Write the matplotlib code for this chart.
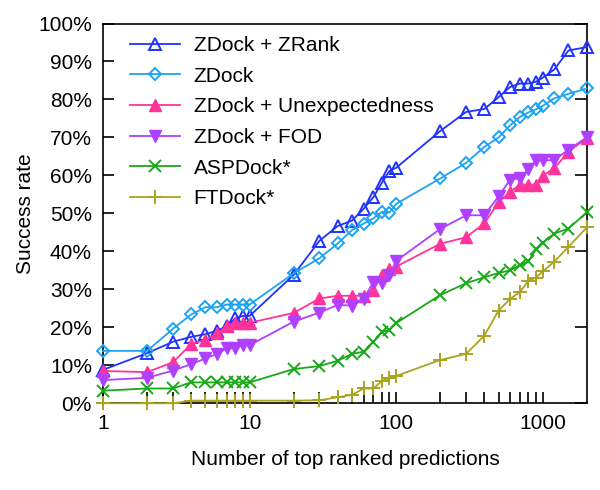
import numpy as np
import matplotlib
matplotlib.use('Agg')
import matplotlib.pyplot as plt
from matplotlib.ticker import FixedLocator, NullFormatter, FuncFormatter

plt.rcParams['font.family'] = ['Liberation Sans', 'DejaVu Sans']

# number of top ranked predictions
n_top = [1, 2, 3, 4, 5, 6, 7, 8, 9, 10,
         20, 30, 40, 50, 60, 70, 80, 90, 100,
         200, 300, 400, 500, 600, 700, 800, 900, 1000, 1200, 1500, 2000]

# success rates in %
zrank = [8.8, 13.2, 16.2, 17.5, 18.2, 19.1, 20.3, 22.4, 23.0, 23.0,
         33.8, 42.8, 46.7, 48.1, 51.2, 54.3, 58.1, 61.2, 62.0,
         71.7, 76.7, 77.5, 80.6, 83.3, 84.2, 84.2, 84.7, 85.7, 87.9, 92.9, 93.8]
zdock = [13.8, 13.8, 19.6, 23.4, 25.3, 25.3, 26.0, 26.0, 26.0, 26.0,
         34.2, 38.2, 42.1, 45.6, 47.3, 48.7, 50.4, 50.2, 52.5,
         59.2, 63.3, 67.5, 70.0, 73.2, 75.4, 76.6, 77.4, 78.3, 80.3, 81.5, 82.9]
unexp = [8.5, 8.2, 10.8, 15.6, 16.7, 18.4, 20.3, 21.2, 21.2, 21.2,
         23.8, 27.6, 28.3, 28.3, 28.3, 29.8, 33.8, 35.3, 36.0,
         42.0, 43.7, 47.4, 52.9, 55.7, 57.6, 57.6, 57.6, 59.9, 61.9, 66.2, 69.9]
fod = [6.1, 6.7, 8.6, 10.3, 11.8, 13.0, 14.5, 14.5, 15.3, 15.3,
       21.5, 23.9, 25.9, 25.7, 27.4, 32.0, 31.8, 33.8, 37.5,
       45.9, 49.5, 49.5, 54.5, 58.9, 59.2, 61.6, 64.0, 64.0, 64.0, 66.8, 70.0]
aspdock = [3.3, 3.9, 3.9, 5.5, 5.5, 5.5, 5.5, 5.5, 5.5, 5.5,
           9.0, 9.8, 11.2, 13.0, 13.6, 16.2, 18.8, 19.3, 21.1,
           28.5, 31.6, 33.2, 34.3, 35.0, 36.4, 37.4, 40.5, 42.3, 44.7, 46.0, 50.3]
ftdock = [0.0, 0.0, 0.0, 0.7, 0.7, 0.7, 0.7, 0.7, 0.7, 0.7,
          0.7, 0.8, 1.6, 2.2, 3.9, 3.9, 5.9, 6.6, 7.2,
          11.4, 13.0, 17.8, 24.4, 27.5, 29.3, 32.3, 33.1, 34.7, 37.3, 41.2, 46.3]

labels = ['ZDock + ZRank', 'ZDock', 'ZDock + Unexpectedness', 'ZDock + FOD',
          'ASPDock*', 'FTDock*']
colors = ['#1f33ff', '#1ea3f2', '#ff3399', '#b040ff', '#18a818', '#aaa420']

fig = plt.figure(figsize=(6, 4.9), dpi=100)
ax = fig.add_axes([0.1717, 0.177, 0.8063, 0.775])

series = [zrank, zdock, unexp, fod, aspdock, ftdock]
styles = [dict(marker='^', ms=8, mfc='none', mew=1.4),
          dict(marker='D', ms=6.5, mfc='none', mew=1.4),
          dict(marker='^', ms=8, mew=1.0),
          dict(marker='v', ms=8, mew=1.0),
          dict(marker='x', ms=8, mew=1.4),
          dict(marker='+', ms=10, mew=1.4)]

for vals, lab, col, st in zip(series, labels, colors, styles):
    ax.plot(n_top, np.array(vals) / 100.0, color=col, lw=1.3, label=lab,
            clip_on=False, zorder=3, **st)

ax.set_xscale('log')
ax.set_xlim(1, 2000)
ax.set_ylim(0, 1.0)

ax.xaxis.set_major_locator(FixedLocator([1, 10, 100, 1000]))
ax.xaxis.set_major_formatter(FuncFormatter(lambda v, p: '%d' % v))
minors = [m * 10 ** e for e in range(0, 4) for m in range(2, 10) if m * 10 ** e < 2000]
ax.xaxis.set_minor_locator(FixedLocator(minors))
ax.xaxis.set_minor_formatter(NullFormatter())
ax.yaxis.set_major_locator(FixedLocator(np.arange(0, 1.01, 0.1)))
ax.yaxis.set_major_formatter(FuncFormatter(lambda v, p: '%d%%' % round(v * 100)))

ax.tick_params(axis='both', which='both', direction='in', labelsize=15,
               width=1.2, color='black')
ax.tick_params(axis='x', which='major', length=8, pad=8)
ax.tick_params(axis='x', which='minor', length=8)
ax.tick_params(axis='y', which='major', length=8, pad=8)
for s in ax.spines.values():
    s.set_linewidth(1.2)

# right side ticks every 20%
ax2 = ax.twinx()
ax2.set_ylim(0, 1.0)
ax2.yaxis.set_major_locator(FixedLocator(np.arange(0, 1.01, 0.2)))
ax2.yaxis.set_major_formatter(NullFormatter())
ax2.tick_params(axis='y', direction='in', length=9, width=1.2)
for s in ax2.spines.values():
    s.set_visible(False)

ax.set_xlabel('Number of top ranked predictions', fontsize=15, labelpad=12)
ax.set_ylabel('Success rate', fontsize=15, labelpad=2)

ax.legend(loc='upper left', bbox_to_anchor=(0.03, 1.0), frameon=False,
          fontsize=15, handlelength=2.4, handletextpad=0.65, labelspacing=0.56,
          numpoints=1, borderaxespad=0.2)

fig.savefig('out.png', dpi=100)
